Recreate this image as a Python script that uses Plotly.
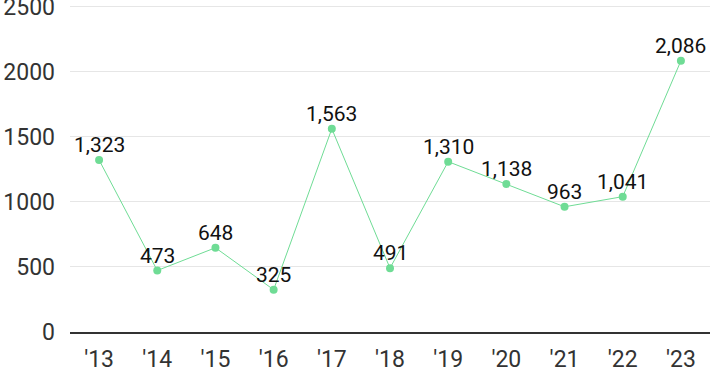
import plotly.graph_objects as go

years = ["'13", "'14", "'15", "'16", "'17", "'18", "'19", "'20", "'21", "'22", "'23"]
values = [1323, 473, 648, 325, 1563, 491, 1310, 1138, 963, 1041, 2086]
labels = [f"{v:,}" for v in values]
y_ticks = [0, 500, 1000, 1500, 2000, 2500]

fig = go.Figure()
fig.add_trace(go.Scatter(
    x=years, y=values, mode="lines+markers",
    line=dict(color="#6fdc95", width=1),
    marker=dict(color="#6fdc95", size=8),
    cliponaxis=False, hoverinfo="skip",
))
for xv, yv, t in zip(years, values, labels):
    fig.add_annotation(
        x=xv, y=yv, text=t, showarrow=False, yshift=15,
        font=dict(family="Roboto, sans-serif", size=21, color="#111"),
    )
fig.update_layout(
    width=710, height=371,
    margin=dict(l=70, r=0, t=5, b=39, autoexpand=False),
    plot_bgcolor="white", paper_bgcolor="white",
    showlegend=False,
    font=dict(family="Roboto, sans-serif", size=20, color="#333"),
)
fig.update_xaxes(
    type="category", range=[-0.5, 10.5], showgrid=False, automargin=False,
    showline=True, linecolor="#333", linewidth=1.5,
    ticks="", tickfont=dict(size=23, color="#333"), ticklabelstandoff=6,
    ticklabeloverflow="allow",
)
fig.update_yaxes(
    range=[0, 2515], tickvals=y_ticks, showgrid=True, gridcolor="#e6e6e6",
    gridwidth=1, zeroline=False, showline=False, ticks="", automargin=False,
    tickfont=dict(size=23, color="#333"), ticklabelstandoff=14,
    ticklabeloverflow="allow",
)
fig.write_html(
    "out.html",
    config={"displayModeBar": False},
    post_script="document.body.style.margin='0';document.body.style.overflow='hidden';",
)
